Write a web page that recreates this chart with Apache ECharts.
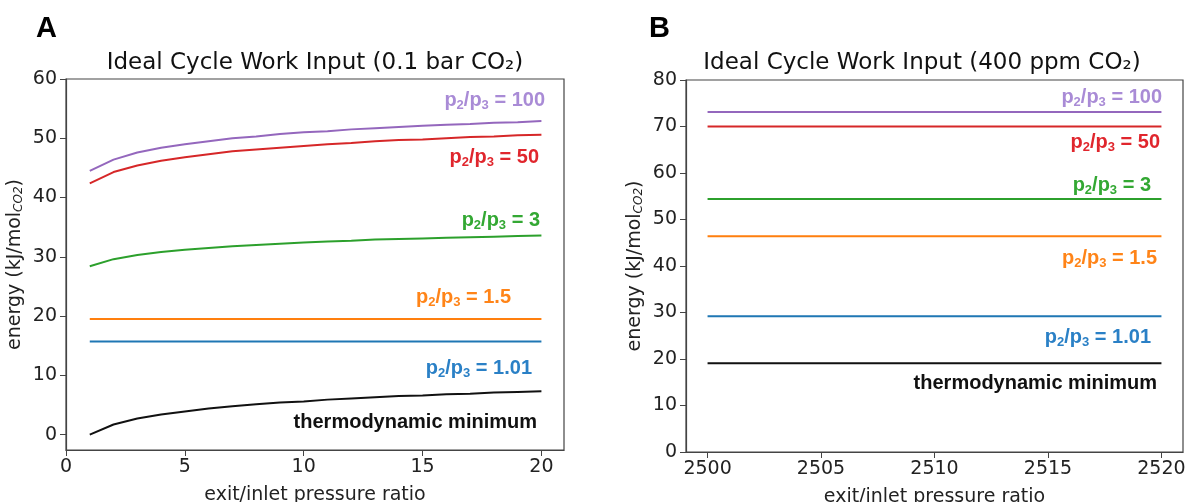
<!DOCTYPE html>
<html>
<head>
<meta charset="utf-8">
<script src="https://cdn.jsdelivr.net/npm/echarts@6/dist/echarts.min.js"></script>
<style>
  html, body { margin: 0; padding: 0; background: #fff; }
  #chart { width: 1188px; height: 502px; }
</style>
</head>
<body>
<div id="chart"></div>
<script>
// 面板 A：0.1 bar CO2
var ratioA = [1, 2, 3, 4, 5, 6, 7, 8, 9, 10, 11, 12, 13, 14, 15, 16, 17, 18, 19, 20];
var minA  = [0, 1.7, 2.7, 3.4, 3.9, 4.4, 4.8, 5.1, 5.4, 5.6, 5.9, 6.1, 6.3, 6.5, 6.6, 6.8, 6.9, 7.1, 7.2, 7.3];
var p101A = [15.7, 15.7, 15.7, 15.7, 15.7, 15.7, 15.7, 15.7, 15.7, 15.7, 15.7, 15.7, 15.7, 15.7, 15.7, 15.7, 15.7, 15.7, 15.7, 15.7];
var p15A  = [19.5, 19.5, 19.5, 19.5, 19.5, 19.5, 19.5, 19.5, 19.5, 19.5, 19.5, 19.5, 19.5, 19.5, 19.5, 19.5, 19.5, 19.5, 19.5, 19.5];
var p3A   = [28.4, 29.6, 30.3, 30.8, 31.2, 31.5, 31.8, 32.0, 32.2, 32.4, 32.6, 32.7, 32.9, 33.0, 33.1, 33.2, 33.3, 33.4, 33.5, 33.6];
var p50A  = [42.4, 44.3, 45.4, 46.2, 46.8, 47.3, 47.8, 48.1, 48.4, 48.7, 49.0, 49.2, 49.5, 49.7, 49.8, 50.0, 50.2, 50.3, 50.5, 50.6];
var p100A = [44.5, 46.4, 47.6, 48.4, 49.0, 49.5, 50.0, 50.3, 50.7, 51.0, 51.2, 51.5, 51.7, 51.9, 52.1, 52.3, 52.4, 52.6, 52.7, 52.9];

// 面板 B：400 ppm CO2
var ratioB = [2500, 2505, 2510, 2515, 2520];
var minB  = [19.1, 19.1, 19.1, 19.1, 19.1];
var p101B = [29.2, 29.2, 29.2, 29.2, 29.2];
var p15B  = [46.4, 46.4, 46.4, 46.4, 46.4];
var p3B   = [54.4, 54.4, 54.4, 54.4, 54.4];
var p50B  = [70.0, 70.0, 70.0, 70.0, 70.0];
var p100B = [73.1, 73.1, 73.1, 73.1, 73.1];

// 刻度
var xTicksA = [0, 5, 10, 15, 20];
var yTicksA = [0, 10, 20, 30, 40, 50, 60];
var xTicksB = [2500, 2505, 2510, 2515, 2520];
var yTicksB = [0, 10, 20, 30, 40, 50, 60, 70, 80];

var colors = {
  min: '#111111',
  p101: '#1f77b4',
  p15: '#ff7f0e',
  p3: '#2ca02c',
  p50: '#d62728',
  p100: '#9467bd'
};
var textColors = {
  min: '#111111',
  p101: '#2a80c6',
  p15: '#ff8418',
  p3: '#33a833',
  p50: '#e0262d',
  p100: '#a98bd6'
};

var myChart = echarts.init(document.getElementById('chart'), null, { renderer: 'canvas' });

var tickFont = 'DejaVu Sans';
var lblFont = '"Liberation Sans", Arial, sans-serif';

function pairs(xs, ys) {
  return xs.map(function (x, i) { return [x, ys[i]]; });
}

function lineSeries(idx, xs, ys, color) {
  return {
    type: 'line',
    xAxisIndex: idx,
    yAxisIndex: idx,
    data: pairs(xs, ys),
    showSymbol: false,
    symbol: 'none',
    lineStyle: { color: color, width: 2 },
    silent: true,
    animation: false
  };
}

function xAxisCfg(idx, min, max, ticks) {
  return {
    type: 'value',
    gridIndex: idx,
    min: min,
    max: max,
    name: 'exit/inlet pressure ratio',
    nameLocation: 'middle',
    nameGap: 36,
    nameTextStyle: { fontFamily: tickFont, fontSize: 19, color: '#222' },
    axisLine: { show: true, onZero: false, lineStyle: { color: '#444', width: 1.2 } },
    axisTick: { show: true, length: 6, customValues: ticks, lineStyle: { color: '#444' } },
    axisLabel: {
      customValues: ticks, fontFamily: tickFont, fontSize: 19, color: '#222', margin: 8,
      formatter: function (v) { return String(v); }
    },
    splitLine: { show: false }
  };
}

function yAxisCfg(idx, min, max, ticks) {
  return {
    type: 'value',
    gridIndex: idx,
    min: min,
    max: max,
    name: '{a|energy (kJ/mol}{s|CO2}{a|)}',
    nameLocation: 'middle',
    nameGap: 41,
    nameTextStyle: {
      rich: {
        a: { fontFamily: tickFont, fontSize: 19, color: '#222' },
        s: { fontFamily: tickFont, fontSize: 12, fontStyle: 'italic', color: '#222', padding: [8, 0, 0, 0] }
      }
    },
    axisLine: { show: true, onZero: false, lineStyle: { color: '#444', width: 1.2 } },
    axisTick: { show: true, length: 6, customValues: ticks, lineStyle: { color: '#444' } },
    axisLabel: {
      customValues: ticks, fontFamily: tickFont, fontSize: 19, color: '#222', margin: 9,
      formatter: function (v) { return String(v); }
    },
    splitLine: { show: false }
  };
}

function ratioLabel(x, y, value, color) {
  return {
    type: 'text',
    x: x,
    y: y,
    silent: true,
    style: {
      text: '{a|p}{s|2}{a|/p}{s|3}{a| = ' + value + '}',
      align: 'right',
      verticalAlign: 'middle',
      rich: {
        a: { fontFamily: lblFont, fontSize: 20, fontWeight: 'bold', fill: color, color: color },
        s: { fontFamily: lblFont, fontSize: 13, fontWeight: 'bold', fill: color, color: color, padding: [10, 0, 0, 0] }
      }
    }
  };
}

function plainLabel(x, y, text, color, size, font) {
  return {
    type: 'text',
    x: x,
    y: y,
    silent: true,
    style: {
      text: text,
      align: 'right',
      verticalAlign: 'middle',
      fontFamily: font || lblFont,
      fontSize: size || 20,
      fontWeight: 'bold',
      fill: color
    }
  };
}

function titleText(x, y, text) {
  return {
    type: 'text',
    x: x,
    y: y,
    silent: true,
    style: {
      text: text,
      align: 'center',
      verticalAlign: 'middle',
      fontFamily: tickFont,
      fontSize: 23,
      fill: '#111'
    }
  };
}

var option = {
  backgroundColor: '#ffffff',
  animation: false,
  grid: [
    { left: 66, right: 624, top: 79, bottom: 52, show: true, borderColor: '#444', borderWidth: 1.2, outerBoundsMode: 'none' },
    { left: 686, right: 5, top: 80, bottom: 50, show: true, borderColor: '#444', borderWidth: 1.2, outerBoundsMode: 'none' }
  ],
  xAxis: [
    xAxisCfg(0, 0, 20.95, xTicksA),
    xAxisCfg(1, 2499.05, 2520.95, xTicksB)
  ],
  yAxis: [
    yAxisCfg(0, -2.6, 60, yTicksA),
    yAxisCfg(1, 0, 80, yTicksB)
  ],
  series: [
    lineSeries(0, ratioA, minA, colors.min),
    lineSeries(0, ratioA, p101A, colors.p101),
    lineSeries(0, ratioA, p15A, colors.p15),
    lineSeries(0, ratioA, p3A, colors.p3),
    lineSeries(0, ratioA, p50A, colors.p50),
    lineSeries(0, ratioA, p100A, colors.p100),
    lineSeries(1, ratioB, minB, colors.min),
    lineSeries(1, ratioB, p101B, colors.p101),
    lineSeries(1, ratioB, p15B, colors.p15),
    lineSeries(1, ratioB, p3B, colors.p3),
    lineSeries(1, ratioB, p50B, colors.p50),
    lineSeries(1, ratioB, p100B, colors.p100)
  ],
  graphic: [
    plainLabel(57, 29, 'A', '#000', 29),
    plainLabel(670, 29, 'B', '#000', 29),
    titleText(315, 63, 'Ideal Cycle Work Input (0.1 bar CO\u2082)'),
    titleText(922, 63, 'Ideal Cycle Work Input (400 ppm CO\u2082)'),
    // 面板 A 标注
    ratioLabel(545, 100, '100', textColors.p100),
    ratioLabel(539, 157, '50', textColors.p50),
    ratioLabel(540, 220, '3', textColors.p3),
    ratioLabel(511, 297, '1.5', textColors.p15),
    ratioLabel(532, 368, '1.01', textColors.p101),
    plainLabel(537, 422, 'thermodynamic minimum', textColors.min),
    // 面板 B 标注
    ratioLabel(1162, 97, '100', textColors.p100),
    ratioLabel(1160, 142, '50', textColors.p50),
    ratioLabel(1151, 185, '3', textColors.p3),
    ratioLabel(1157, 258, '1.5', textColors.p15),
    ratioLabel(1151, 337, '1.01', textColors.p101),
    plainLabel(1157, 383, 'thermodynamic minimum', textColors.min)
  ]
};

myChart.setOption(option);
</script>
</body>
</html>
